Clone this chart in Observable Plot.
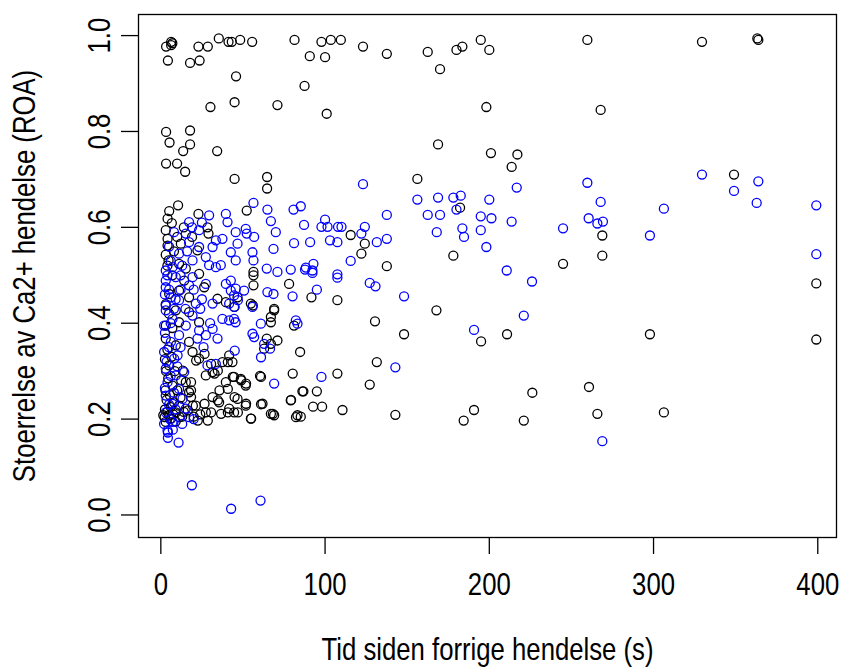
<!DOCTYPE html>
<html>
<head>
<meta charset="utf-8">
<script src="https://cdn.jsdelivr.net/npm/d3@7"></script>
<script src="https://cdn.jsdelivr.net/npm/@observablehq/plot@0.6"></script>
<style>
  html, body { margin: 0; padding: 0; background: #fff; }
</style>
</head>
<body>
<div id="chart"></div>
<script>
// Axis ticks and titles
const xTicks = [0, 100, 200, 300, 400];
const yTicks = [0, 0.2, 0.4, 0.6, 0.8, 1.0];
const xTitle = "Tid siden forrige hendelse (s)";
const yTitle = "Stoerrelse av Ca2+ hendelse (ROA)";

// Events drawn in black: [time since previous event (s), ROA size]
const blackPoints = [
  [3.2,0.977],[6.3,0.987],[6.3,0.980],[7.0,0.984],[4.3,0.948],[17.8,0.943],[23.6,0.948],[22.9,0.977],
  [28.6,0.977],[35.3,0.994],[41.2,0.987],[43.2,0.987],[48.3,0.991],[55.6,0.987],[81.4,0.991],[90.7,0.957],
  [97.8,0.987],[103.5,0.991],[109.6,0.991],[100,0.955],[123.1,0.977],[137.6,0.962],[162.5,0.966],[170,0.930],
  [180,0.970],[183.6,0.977],[194.8,0.991],[200,0.970],[259.7,0.991],[329.5,0.987],[363.2,0.994],[363.8,0.991],
  [45.8,0.915],[87.5,0.895],[30.2,0.851],[44.9,0.861],[71.0,0.855],[101,0.837],[198.2,0.851],[267.8,0.845],
  [3.2,0.799],[17.8,0.802],[5.3,0.777],[17.8,0.773],[13.6,0.759],[34.3,0.759],[3.2,0.733],[9.9,0.733],
  [14.8,0.716],[44.9,0.701],[64.7,0.705],[64.7,0.681],[168.8,0.773],[201,0.755],[217.1,0.752],[213.6,0.726],
  [156.2,0.701],[349,0.710],
  [182.2,0.641],[115.6,0.584],[124.2,0.566],[122.1,0.545],[137.6,0.519],[178.1,0.541],[244.9,0.524],
  [268.8,0.583],[268.8,0.541],[399.1,0.483],
  [10.5,0.646],[5.1,0.634],[4.1,0.618],[6.7,0.609],[3.0,0.594],[4.1,0.576],[4.1,0.562],[3.0,0.543],
  [4.7,0.531],[22.9,0.628],[28.4,0.600],[29.0,0.587],[22.3,0.552],[12.2,0.566],[11.1,0.524],[15.2,0.514],
  [26.4,0.475],[23.3,0.503],[14.2,0.489],[11.1,0.468],[5.1,0.461],[34.5,0.451],[39.6,0.444],[17.2,0.454],
  [52.3,0.635],[56.4,0.507],[56.4,0.500],[56.4,0.479],[78.1,0.482],[54.8,0.441],[46.7,0.454],[69,0.430],
  [91.7,0.454],[107.5,0.448],[56,0.437],[44.9,0.434],[67,0.413],
  [130.4,0.404],[148.1,0.377],[167.8,0.427],[195,0.362],[210.8,0.377],[84.8,0.340],[131.5,0.319],[107.5,0.295],
  [127.2,0.272],[86.8,0.258],[95,0.258],[92.7,0.226],[98.2,0.226],[110.6,0.219],[142.8,0.209],[226.2,0.255],
  [190.7,0.219],[184.4,0.197],[221,0.197],[85.2,0.205],[297.8,0.377],[399.1,0.366],[260.7,0.267],[265.8,0.211],
  [306.3,0.214],
  [80.3,0.295],[79.3,0.240],[82.3,0.204],[61,0.288],[43.8,0.288],[48.9,0.281],[51.9,0.274],[32.7,0.295],
  [18.4,0.277],[18.4,0.260],[35.7,0.260],[40.8,0.263],[44.9,0.246],[34.7,0.239],[26.6,0.232],[19.5,0.228],
  [51.9,0.232],[61,0.231],[68.2,0.211],[55,0.201],[46.9,0.214],[36.7,0.211],[28.6,0.197],[22.5,0.197],
  [40.8,0.214],[30.6,0.214],[16.4,0.218],[11.4,0.204],[6.3,0.201],[2.3,0.204],[18.4,0.246],[12.4,0.281],
  [13.4,0.301],[21.5,0.322],[30.6,0.315],[34.7,0.301],[40.8,0.319],[26.6,0.336],
  [9.1,0.427],[17.2,0.423],[23.3,0.402],[17.2,0.361],[19.3,0.340],[23.3,0.326],[31.5,0.298],[27.4,0.291],
  [39.6,0.277],[37.5,0.319],[41.6,0.333],[9.1,0.354],[5.1,0.312],[7.1,0.270],[11.1,0.228],[5.1,0.208],
  [9.1,0.214],[1.5,0.208],[3.0,0.194],[27.4,0.214],[21.3,0.228],[15.2,0.277],[17.2,0.256],[35.5,0.235],
  [41.6,0.222],[31.5,0.246],[3.0,0.368],[3.0,0.395],[11.1,0.402],
  [69,0.427],[67,0.402],[81.1,0.395],[71,0.364],[67,0.357],[64.5,0.368],[62.9,0.347],[43.6,0.319],
  [44.6,0.288],[48.7,0.284],[51.7,0.270],[60.4,0.290],[86.2,0.258],[79.1,0.239],[46.7,0.242],[51.7,0.228],
  [61.9,0.232],[44.6,0.214],[54.8,0.201],[67,0.211],[69,0.208],[83.2,0.208],
  [2.5,0.220],[4,0.215],[6,0.225],[3.5,0.240],[8,0.235],[2.8,0.260],[5.5,0.250],[4.5,0.285],
  [3.2,0.300],[6.5,0.330],[2.5,0.325],[8.5,0.300],[10,0.260],[12,0.245],[14,0.215],[9,0.195],
  [13,0.205],[7.5,0.210],[20,0.205],[24,0.210],[4,0.345],[7,0.390],[5,0.420],[3,0.440],
  [7,0.500],[4,0.520],[10,0.580],[8,0.550],[14,0.600],[19,0.580]
];

// Events drawn in blue: [time since previous event (s), ROA size]
const bluePoints = [
  [123.1,0.690],[156.2,0.658],[168.8,0.662],[178.1,0.662],[182.6,0.666],[200,0.658],[216.7,0.683],[162.5,0.626],
  [170,0.626],[180,0.637],[194.8,0.623],[201.3,0.619],[213.6,0.612],[183.6,0.598],[184.6,0.580],[168,0.590],
  [194.8,0.594],[198.2,0.559],[244.9,0.598],[137.6,0.626],[137.6,0.576],[131.5,0.569],[124.2,0.601],[122.1,0.587],
  [110,0.601],[107.9,0.601],[100,0.616],[97.8,0.601],[101.5,0.601],[87.2,0.605],[85.2,0.644],[90.9,0.569],
  [103,0.573],[107.5,0.569],[115.6,0.530],[92.9,0.524],[88.3,0.516],[210.6,0.510],[107.5,0.502],
  [87.8,0.512],[92.3,0.505],[107.5,0.495],[95,0.470],[127.2,0.484],[130.7,0.477],[148.1,0.456],[226,0.487],
  [221,0.416],[190.7,0.386],[142.8,0.308],[97.8,0.288],
  [329.5,0.710],[363.8,0.696],[259.7,0.693],[349,0.676],[362.8,0.651],[399.1,0.646],[267.8,0.653],[306.3,0.639],
  [260.5,0.619],[265.8,0.608],[269.2,0.612],[297.8,0.583],[399.1,0.544],[268.8,0.154],
  [18.9,0.062],[42.8,0.013],[60.7,0.030],[4.3,0.161],[4.3,0.172],[10.8,0.151],[7.3,0.178],[69,0.274],[61,0.329],
  [17.2,0.611],[23.3,0.594],[15.2,0.587],[29.4,0.625],[39.6,0.628],[40.6,0.611],[33.5,0.573],[37.5,0.576],
  [31.5,0.559],[23.3,0.559],[17.2,0.569],[27.4,0.538],[33.5,0.517],[36.5,0.521],[29.4,0.521],[19.3,0.531],
  [11.1,0.545],[7.1,0.517],[3.0,0.510],[3.0,0.489],[9.1,0.496],[19.3,0.496],[17.2,0.479],[3.0,0.475],
  [6.1,0.454],[11.1,0.448],[3.0,0.437],[21.3,0.441],[27.4,0.482],[39.6,0.482],[42.6,0.468],[31.5,0.441],
  [41.6,0.441],
  [56.4,0.651],[64.9,0.637],[80.8,0.637],[67,0.613],[70,0.590],[51.7,0.597],[52.3,0.587],[45.6,0.590],
  [56.8,0.580],[46.7,0.566],[42.6,0.548],[45.6,0.531],[55.8,0.548],[56.4,0.531],[68.6,0.555],[81.1,0.567],
  [64.5,0.514],[71,0.507],[79.1,0.512],[92.3,0.510],[42.6,0.489],[45.6,0.472],[50.7,0.468],[64.9,0.465],
  [68.6,0.461],[80.2,0.456],[44.6,0.458],[46.9,0.448],
  [3.0,0.427],[7.1,0.409],[2.0,0.395],[11.1,0.375],[6.1,0.361],[2.0,0.340],[8.1,0.326],[3.0,0.305],
  [9.1,0.291],[4.1,0.277],[11.1,0.263],[3.0,0.249],[7.1,0.232],[3.0,0.214],[15.2,0.222],[17.2,0.204],
  [7.1,0.194],[4.1,0.176],[22.3,0.368],[27.4,0.375],[34.5,0.368],[31.5,0.388],[23.3,0.385],[37.5,0.409],
  [33.5,0.315],[28.4,0.312],[41.6,0.406],[19.3,0.416],[15.2,0.395],[10.2,0.333],[14.2,0.298],[13.2,0.242],
  [44.6,0.409],[45.5,0.402],[60.9,0.399],[55.8,0.378],[56.8,0.371],[62.9,0.357],[66.5,0.347],[82.2,0.406],
  [83.2,0.399],[45,0.343],[44.6,0.434],[55.8,0.434],
  [2.5,0.460],[4,0.500],[5,0.470],[8,0.430],[2.5,0.380],[5,0.350],[3.5,0.320],[6,0.290],
  [2.5,0.265],[5,0.230],[9,0.220],[2,0.190],[5.5,0.200],[8,0.255],[10,0.310],[12,0.350],
  [6,0.400],[9,0.450],[13,0.520],[5,0.560],[8,0.590],[12,0.470],[15,0.430],[20,0.470],
  [25,0.450],[13,0.190],[20,0.200],[24,0.430],[30,0.400],[26,0.350],[12,0.500],[6,0.530],
  [16,0.550],[19,0.600],[25,0.610]
];

const font = "'Liberation Sans', Arial, Helvetica, sans-serif";
const textSize = 31;
// Horizontal squeeze of the glyphs, giving a narrow sans face
const narrow = 0.83;

const chart = Plot.plot({
  width: 842,
  height: 670,
  marginLeft: 138,
  marginRight: 6,
  marginTop: 14,
  marginBottom: 133,
  style: {fontFamily: font, background: "#fff", color: "#000", overflow: "visible"},
  x: {domain: [-13.6, 411.4], axis: null},
  y: {domain: [-0.047, 1.044], axis: null},
  marks: [
    Plot.frame({stroke: "#000", strokeWidth: 1.3}),
    Plot.axisX(xTicks, {anchor: "bottom", label: null, tickSize: 17, strokeWidth: 1.3, tickFormat: () => ""}),
    Plot.axisY(yTicks, {anchor: "left", label: null, tickSize: 17, strokeWidth: 1.3, tickFormat: () => ""}),
    Plot.text(xTicks, {x: d => d, frameAnchor: "bottom", dy: 48, text: d => String(d), fontSize: textSize, textAnchor: "middle", lineAnchor: "middle"}),
    Plot.text(yTicks, {y: d => d, frameAnchor: "left", dx: -38, rotate: -90, text: d => d.toFixed(1), fontSize: textSize, textAnchor: "middle", lineAnchor: "middle"}),
    Plot.text([xTitle], {frameAnchor: "bottom", dy: 113, text: d => d, fontSize: textSize, textAnchor: "middle", lineAnchor: "middle"}),
    Plot.text([yTitle], {frameAnchor: "left", dx: -113, rotate: -90, text: d => d, fontSize: textSize, textAnchor: "middle", lineAnchor: "middle"}),
    Plot.dot(blackPoints, {x: d => d[0], y: d => d[1], r: 4.5, stroke: "#000", strokeWidth: 1.3, fill: "none"}),
    Plot.dot(bluePoints, {x: d => d[0], y: d => d[1], r: 4.5, stroke: "#0000ff", strokeWidth: 1.3, fill: "none"})
  ]
});

// Narrow the lettering along each text's own baseline
d3.select(chart).selectAll("text").each(function () {
  const t = d3.select(this);
  const base = t.attr("transform") || "";
  const xAttr = t.attr("x");
  const x = xAttr != null && isFinite(+xAttr) ? +xAttr : 0;
  if (xAttr != null && isFinite(+xAttr)) t.attr("x", null);
  t.attr("transform", `${base} translate(${x},0) scale(${narrow},1)`);
});

document.getElementById("chart").appendChild(chart);
</script>
</body>
</html>
